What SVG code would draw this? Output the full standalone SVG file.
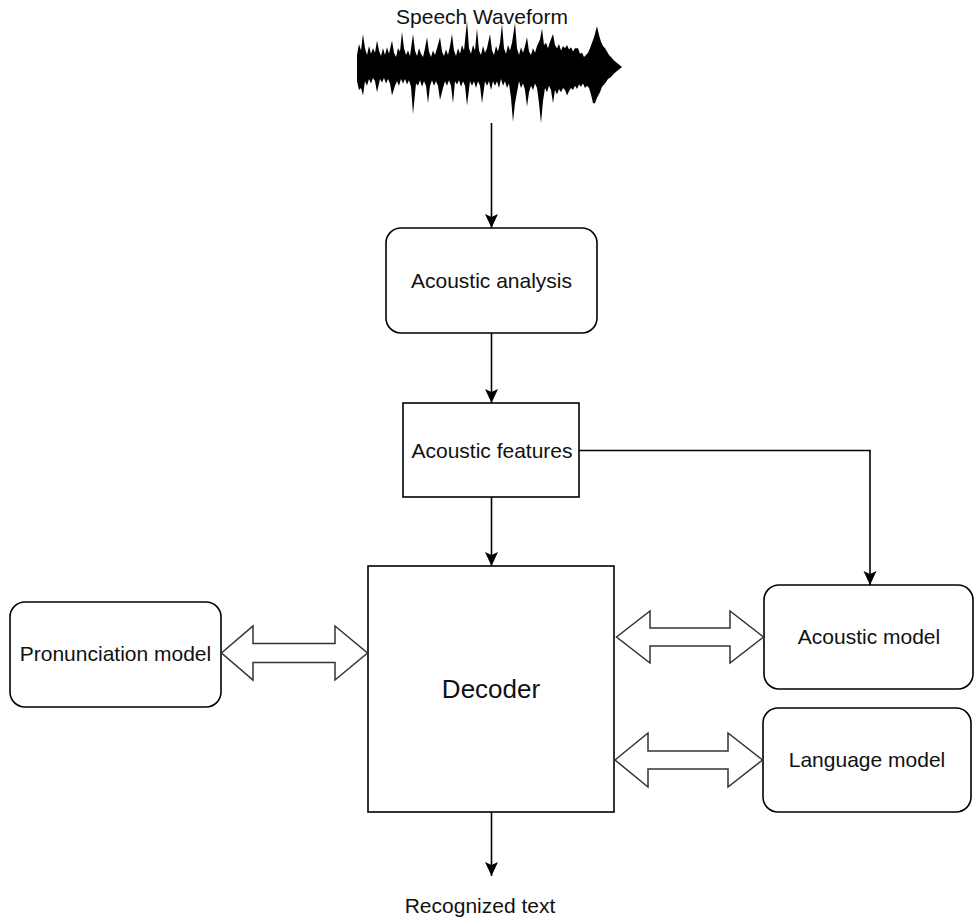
<svg xmlns="http://www.w3.org/2000/svg" width="974" height="922" viewBox="0 0 974 922">
  <style>
    .box { fill: #ffffff; stroke: #000000; stroke-width: 1.6; }
    .lbl { font-family: "Liberation Sans", Arial, Helvetica, sans-serif; font-size: 21px; fill: #111111; text-anchor: middle; }
    .big { font-size: 26px; }
    .edge { fill: none; stroke: #000000; stroke-width: 1.6; }
    .flex { fill: #ffffff; stroke: #333333; stroke-width: 1.5; stroke-linejoin: miter; }
  </style>
  <defs>
    <marker id="head" viewBox="0 0 14 14" refX="14" refY="7" markerWidth="14" markerHeight="14" markerUnits="userSpaceOnUse" orient="auto">
      <path d="M0,0.5 L14,7 L0,13.5 L3,7 Z" fill="#000000"/>
    </marker>
  </defs>
  <rect width="974" height="922" fill="#ffffff"/>

  <!-- input signal -->
  <g id="waveform">
    <text class="lbl" x="482" y="24">Speech Waveform</text>
    <path fill="#000000" transform="translate(0,67) scale(1,1.1) translate(0,-67)" d="M357,56 L359,46 361,52 363,37 365,50 367,56 369,48 371,55 373,50 375,54 377,43 379,52 381,57 383,50 385,56 387,49 389,55 392,43 394,54 396,58 398,50 400,53 402,35 404,50 406,56 408,52 410,57 413,37 415,52 417,57 419,50 421,55 423,58 425,50 427,40 429,53 431,58 433,52 435,56 437,50 440,40 442,53 444,57 446,51 448,56 450,48 452,37 454,52 456,57 458,50 460,55 462,47 464,52 467,25 469,50 471,55 473,47 475,52 477,32 479,52 481,56 483,48 485,54 487,50 490,37 492,52 494,56 496,48 498,53 500,45 502,28 504,50 506,55 508,47 510,52 512,45 515,27 517,50 519,56 521,49 523,54 525,48 527,40 529,53 531,56 533,50 535,54 537,48 540,42 542,32 544,47 546,45 548,50 550,44 553,37 555,47 557,50 559,46 561,52 563,48 565,50 567,47 569,51 571,49 573,53 575,50 578,50 580,55 582,54 584,58 586,56 588,54 590,50 592,45 594,40 597,30 599,38 601,44 603,48 605,50 607,53 609,56 611,58 614,61 618,64 622,67 618,70 614,73 611,76 608,78 605,82 602,85 600,90 597,95 595,100 593,100 591,92 589,86 587,84 585,86 583,82 581,85 579,83 577,87 575,84 573,88 571,86 569,89 567,93 565,88 563,86 561,90 559,87 557,92 555,88 553,100 551,88 549,84 547,90 545,86 543,98 541,118 539,100 537,86 535,82 533,88 531,84 529,90 527,103 525,88 523,82 521,86 519,80 517,90 515,100 513,117 511,95 509,82 507,86 505,80 503,84 501,78 499,86 497,80 495,84 493,80 491,88 489,80 487,84 485,80 482,100 480,84 478,80 476,86 474,80 472,84 470,80 467,102 465,84 463,80 461,85 459,79 457,83 455,80 453,100 451,84 449,79 447,84 445,80 443,86 440,97 438,84 436,80 434,84 432,79 430,84 428,100 426,84 424,80 422,85 420,79 418,84 416,82 413,110 411,85 409,79 407,83 405,78 403,82 401,78 399,84 397,80 395,84 392,93 390,82 388,78 386,82 384,77 382,81 380,78 377,90 375,80 373,77 371,82 369,78 367,84 365,80 363,93 361,86 359,88 357,80 Z"/>
  </g>

  <g id="acoustic-analysis">
    <rect class="box" x="386" y="228" width="211" height="105" rx="15" ry="15"/>
    <text class="lbl" x="491.5" y="288">Acoustic analysis</text>
  </g>

  <g id="acoustic-features">
    <rect class="box" x="403" y="403" width="176" height="94"/>
    <text class="lbl" x="492" y="458">Acoustic features</text>
  </g>

  <g id="decoder">
    <rect class="box" x="368" y="566" width="246" height="246"/>
    <text class="lbl big" x="491" y="698">Decoder</text>
  </g>

  <g id="pronunciation-model">
    <rect class="box" x="10" y="602" width="211" height="105" rx="15" ry="15"/>
    <text class="lbl" x="115.5" y="661">Pronunciation model</text>
  </g>

  <g id="acoustic-model">
    <rect class="box" x="764" y="585" width="209" height="104" rx="15" ry="15"/>
    <text class="lbl" x="869" y="644">Acoustic model</text>
  </g>

  <g id="language-model">
    <rect class="box" x="763" y="708" width="208" height="104" rx="15" ry="15"/>
    <text class="lbl" x="867" y="767">Language model</text>
  </g>

  <g id="recognized-text">
    <text class="lbl" x="480" y="913">Recognized text</text>
  </g>

  <g id="connectors">
    <path class="edge" d="M491.5,123 V228" marker-end="url(#head)"/>
    <path class="edge" d="M491.5,333 V403" marker-end="url(#head)"/>
    <path class="edge" d="M491.5,497 V566" marker-end="url(#head)"/>
    <path class="edge" d="M579,450.5 H870 V585" marker-end="url(#head)"/>
    <path class="edge" d="M491.5,812 V876" marker-end="url(#head)"/>

    <!-- two-way block arrows -->
    <path class="flex" d="M221.5,653 L253,626 V643.5 H335 V626 L367.5,653 L335,680 V662.5 H253 V680 Z"/>
    <path class="flex" d="M616.5,637 L650,611 V628 H730 V611 L763.5,637 L730,663 V646 H650 V663 Z"/>
    <path class="flex" d="M615,760 L648,733 V751 H728 V733 L762.5,760 L728,787 V769 H648 V787 Z"/>
  </g>
</svg>
